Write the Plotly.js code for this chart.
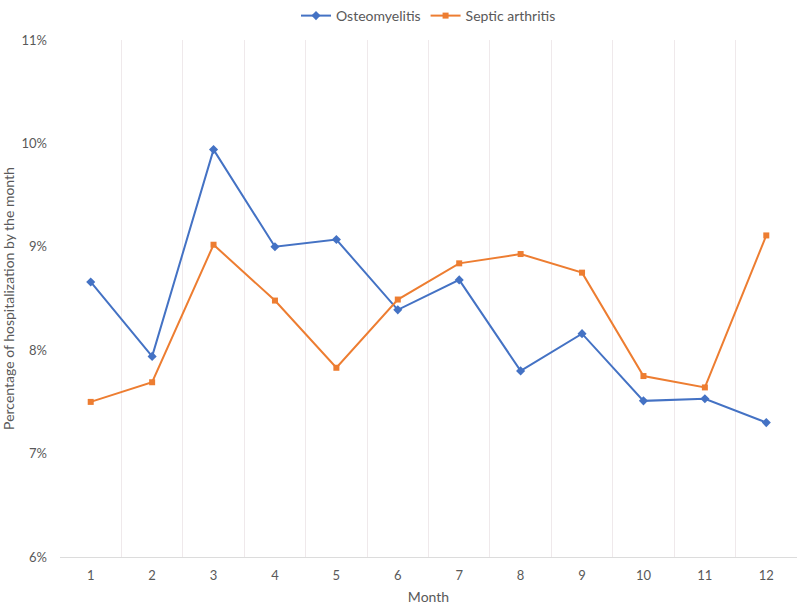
<!DOCTYPE html>
<html>
<head>
<meta charset="utf-8">
<script src="https://cdn.plot.ly/plotly-3.0.1.min.js"></script>
<style>
  html, body { margin: 0; padding: 0; background: #fff; }
  #chart { width: 800px; height: 605px; }
</style>
</head>
<body>
<div id="chart"></div>
<script>
const months = ["1","2","3","4","5","6","7","8","9","10","11","12"];
const osteomyelitis = [8.66, 7.94, 9.94, 9.00, 9.07, 8.39, 8.68, 7.80, 8.16, 7.51, 7.53, 7.30];
const septicArthritis = [7.50, 7.69, 9.02, 8.48, 7.83, 8.49, 8.84, 8.93, 8.75, 7.75, 7.64, 9.11];
const yTicks = [6, 7, 8, 9, 10, 11];

const fontFam = "Lato, 'Open Sans', sans-serif";
const grey = "#595959";

const traces = [
  {
    x: months,
    y: osteomyelitis,
    name: "Osteomyelitis",
    mode: "lines+markers",
    line: { color: "#4472C4", width: 2 },
    marker: { symbol: "diamond", size: 7, color: "#4472C4" }
  },
  {
    x: months,
    y: septicArthritis,
    name: "Septic arthritis",
    mode: "lines+markers",
    line: { color: "#ED7D31", width: 2 },
    marker: { symbol: "square", size: 6, color: "#ED7D31" }
  }
];

const layout = {
  width: 800,
  height: 605,
  margin: { l: 60, r: 3, t: 40, b: 48 },
  paper_bgcolor: "#fff",
  plot_bgcolor: "#fff",
  font: { family: fontFam, size: 13, color: grey },
  showlegend: true,
  legend: {
    orientation: "h",
    x: 0.5, xanchor: "center",
    y: 1.0, yref: "container", yanchor: "top",
    font: { size: 14, color: grey },
    itemwidth: 30
  },
  xaxis: {
    type: "category",
    range: [-0.5, months.length - 0.5],
    tickson: "boundaries",
    automargin: false,
    showgrid: true,
    gridcolor: "#efe9eb",
    gridwidth: 1,
    showline: true,
    linecolor: "#dcdcdc",
    ticks: "",
    ticklabelstandoff: 6,
    tickfont: { size: 13, color: grey },
    title: { text: "Month", font: { size: 14, color: grey }, standoff: 10 },
    zeroline: false,
    fixedrange: true
  },
  yaxis: {
    range: [6, 11],
    automargin: false,
    tickvals: yTicks,
    ticktext: yTicks.map(v => v + "%"),
    showgrid: false,
    zeroline: false,
    showline: false,
    ticks: "",
    ticklabelstandoff: 12,
    tickfont: { size: 13, color: grey },
    title: { text: "Percentage of hospitalization by the month", font: { size: 14, color: grey }, standoff: 4 },
    fixedrange: true
  }
};

Plotly.newPlot("chart", traces, layout, { displayModeBar: false, staticPlot: true });
</script>
</body>
</html>
